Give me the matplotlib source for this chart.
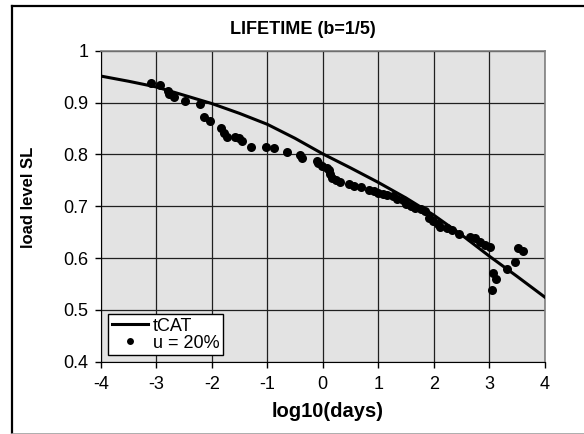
"""
LIFETIME (b=1/5): load level vs log10(days)
"""
import matplotlib
matplotlib.use("Agg")
import matplotlib.pyplot as plt
from matplotlib.lines import Line2D

plt.rcParams['font.family'] = ['Liberation Sans', 'DejaVu Sans']

# tCAT model curve
curve_x = [-4, -3.5, -3, -2.5, -2, -1.5, -1, -0.5, 0, 0.5, 1, 1.5, 2, 2.5, 3, 3.5, 4]
curve_y = [0.951, 0.941, 0.930, 0.914, 0.898, 0.879, 0.858, 0.831, 0.801,
           0.774, 0.746, 0.716, 0.683, 0.645, 0.604, 0.565, 0.525]

# measured points, u = 20%
pts_x = [-3.10, -2.93, -2.80, -2.78, -2.69, -2.49, -2.22, -2.14, -2.03, -1.84,
         -1.78, -1.72, -1.58, -1.51, -1.45, -1.29, -1.02, -0.88, -0.65, -0.41,
         -0.38, -0.11, -0.08, -0.02, 0.08, 0.12, 0.13, 0.16, 0.24, 0.32,
         0.48, 0.56, 0.69, 0.83, 0.92, 1.00, 1.08, 1.16, 1.26, 1.34,
         1.45, 1.51, 1.59, 1.67, 1.77, 1.85, 1.92, 1.99, 2.07, 2.11,
         2.25, 2.33, 2.45, 2.66, 2.75, 2.83, 2.93, 3.01, 3.07, 3.13,
         3.06, 3.32, 3.46, 3.52, 3.61]
pts_y = [0.938, 0.933, 0.922, 0.917, 0.911, 0.903, 0.897, 0.872, 0.865, 0.851,
         0.841, 0.833, 0.833, 0.831, 0.825, 0.815, 0.815, 0.812, 0.804, 0.799,
         0.793, 0.788, 0.783, 0.777, 0.774, 0.769, 0.762, 0.755, 0.750, 0.746,
         0.743, 0.739, 0.737, 0.732, 0.729, 0.726, 0.723, 0.721, 0.719, 0.714,
         0.711, 0.705, 0.700, 0.697, 0.695, 0.691, 0.678, 0.671, 0.665, 0.660,
         0.657, 0.655, 0.647, 0.640, 0.638, 0.631, 0.625, 0.622, 0.572, 0.559,
         0.538, 0.578, 0.593, 0.620, 0.614]

x_ticks = [-4, -3, -2, -1, 0, 1, 2, 3, 4]
y_ticks = [0.4, 0.5, 0.6, 0.7, 0.8, 0.9, 1.0]
y_labels = ['0.4', '0.5', '0.6', '0.7', '0.8', '0.9', '1']

fig = plt.figure(figsize=(5.84, 4.34), dpi=100)
ax = fig.add_axes([101 / 584, 1 - 361.7 / 434, 443.5 / 584, 311 / 434])
ax.set_facecolor('#e3e3e3')

ax.plot(curve_x, curve_y, color='black', lw=2.2, label='tCAT', zorder=3)
ax.plot(pts_x, pts_y, 'o', color='black', ms=6.5, mew=0, label='u = 20%', zorder=4)

ax.set_xlim(-4, 4)
ax.set_ylim(0.4, 1.0)
ax.set_xticks(x_ticks)
ax.set_xticklabels([str(t) for t in x_ticks])
ax.set_yticks(y_ticks)
ax.set_yticklabels(y_labels)
ax.grid(True, color='#202020', lw=0.9)
ax.set_axisbelow(True)
ax.tick_params(direction='out', length=4, width=1, labelsize=13)
ax.tick_params(axis='x', pad=6)
ax.tick_params(axis='y', pad=5)

for side in ['top', 'right']:
    ax.spines[side].set_color('#808080')
    ax.spines[side].set_linewidth(1.2)
for side in ['left', 'bottom']:
    ax.spines[side].set_color('black')

ax.set_xlabel('log10(days)', fontsize=14.5, fontweight='bold')
ax.xaxis.set_label_coords(0.512, -0.128)
ax.set_ylabel('load level SL', fontsize=12, fontweight='bold')
ax.yaxis.set_label_coords(-0.146, 0.528)
fig.text(0.518, 0.933, 'LIFETIME (b=1/5)', ha='center', va='center',
         fontsize=13, fontweight='bold')

leg = ax.legend(loc='lower left', bbox_to_anchor=(0.016, 0.021), fontsize=13,
                frameon=True, fancybox=False, edgecolor='black', framealpha=1,
                borderpad=0.2, labelspacing=0.0, handlelength=2.0,
                handletextpad=0.3, borderaxespad=0)
leg.get_frame().set_linewidth(1)
leg.legend_handles[1].set_markersize(5)

# outer frame: black left/top, grey bottom, runs off the right edge
fig.add_artist(Line2D([12 / 584, 12 / 584], [0.0, 1 - 6 / 434],
                      transform=fig.transFigure, color='black', lw=1.6))
fig.add_artist(Line2D([12 / 584, 1.0], [1 - 6 / 434, 1 - 6 / 434],
                      transform=fig.transFigure, color='black', lw=1.6))
fig.add_artist(Line2D([12 / 584, 1.0], [0.5 / 434, 0.5 / 434],
                      transform=fig.transFigure, color='#a0a0a0', lw=1.2))

fig.savefig('out.png', dpi=100)
